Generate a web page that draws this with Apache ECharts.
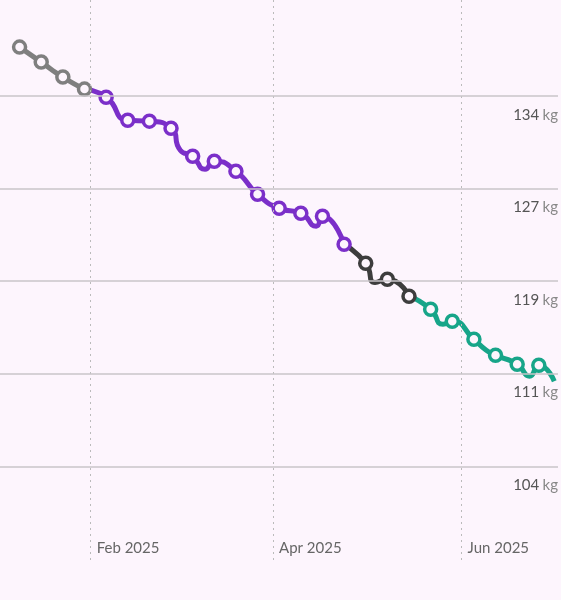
<!DOCTYPE html><html><head><meta charset="utf-8">
<script src="https://cdn.jsdelivr.net/npm/echarts@6/dist/echarts.min.js"></script>
<style>html,body{margin:0;background:#fdf5fd}#c{width:561px;height:600px}</style></head><body><div id="c"></div>
<script>
const grey = [['2025-01-09',138.23],['2025-01-16',137.0],['2025-01-23',135.77],['2025-01-30',134.78]];
const purple = [['2025-02-06',134.12],['2025-02-13',132.23],['2025-02-20',132.15],['2025-02-27',131.57],['2025-03-02',129.76,0],['2025-03-06',129.27],['2025-03-10',128.2,0],['2025-03-13',128.86],['2025-03-20',128.04],['2025-03-27',126.15],['2025-04-03',125.0],['2025-04-10',124.59],['2025-04-15',123.52,0],['2025-04-17',124.34],['2025-04-24',122.04]];
const dark = [['2025-05-01',120.48],['2025-05-04',118.9,0],['2025-05-08',119.16],['2025-05-15',117.77]];
const teal = [['2025-05-22',116.7],['2025-05-26',115.47,0],['2025-05-29',115.71],['2025-06-05',114.23],['2025-06-09',113.33,0],['2025-06-12',112.92],['2025-06-19',112.18],['2025-06-23',111.2,0],['2025-06-26',112.1],['2025-07-01',110.78,0]];
const yTicks = [103.8,111.4,119,126.6,134.2];
const xTicks = ['2025-02-01','2025-04-01','2025-06-01'];
const bg='#fdf5fd';
const T=d=>Date.parse(d+'T00:00:00Z');
function pts(arr){return arr.map(d=>({value:[T(d[0]),d[1]],symbol:d[2]===0?'none':'circle'}));}
function ser(arr,prev,color){
  const data = prev?[{value:[T(prev[0]),prev[1]],symbol:'none'}].concat(pts(arr)):pts(arr);
  return {type:'line',data,smooth:0.6,symbol:'circle',symbolSize:12,
    lineStyle:{color,width:5},itemStyle:{color:bg,borderColor:color,borderWidth:3.5},z:3};
}
const M=['Jan','Feb','Mar','Apr','May','Jun','Jul'];
const chart=echarts.init(document.getElementById('c'));
chart.setOption({
  backgroundColor:bg,animation:false,
  grid:{left:0,right:0,top:0,bottom:40},
  xAxis:{type:'value',min:T('2025-01-02')+16*3600e3,max:T('2025-07-02')+5*3600e3,
    axisLine:{show:false},axisTick:{show:false},splitLine:{show:false},
    axisLabel:{inside:true,customValues:xTicks.map(T),align:'left',verticalAlign:'bottom',margin:4,padding:[0,0,0,6],
      color:'#666',fontSize:15,fontFamily:'Lato, sans-serif',
      formatter:v=>{const d=new Date(v);return M[d.getUTCMonth()]+' '+d.getUTCFullYear();}}},
  yAxis:{type:'value',position:'right',min:96.1,max:142.1,
    axisLine:{show:false},axisTick:{show:false},splitLine:{show:false},
    axisLabel:{inside:true,customValues:yTicks,verticalAlign:'top',align:'right',margin:0,padding:[11,0,0,0],
      formatter:v=>'{a|'+Math.round(v)+'} {b|kg}',
      rich:{a:{color:'#555',fontSize:15,fontFamily:'Lato, sans-serif'},b:{color:'#888',fontSize:15,fontFamily:'Lato, sans-serif'}}}},
  series:[
    {type:'line',data:[],markLine:{silent:true,symbol:'none',label:{show:false},
      data:xTicks.map(d=>({xAxis:T(d),lineStyle:{color:'#bbb',type:[2,4],width:1}})).concat(yTicks.map(v=>({yAxis:v,lineStyle:{color:'#c8c4c8',type:'solid',width:1.5}})))}},
    ser(grey,null,'#7f7f7f'),
    ser(purple,grey[grey.length-1],'#7b2fc9'),
    ser(dark,purple[purple.length-1],'#3d3d3d'),
    ser(teal,dark[dark.length-1],'#17a589')
  ]
});
</script></body></html>
